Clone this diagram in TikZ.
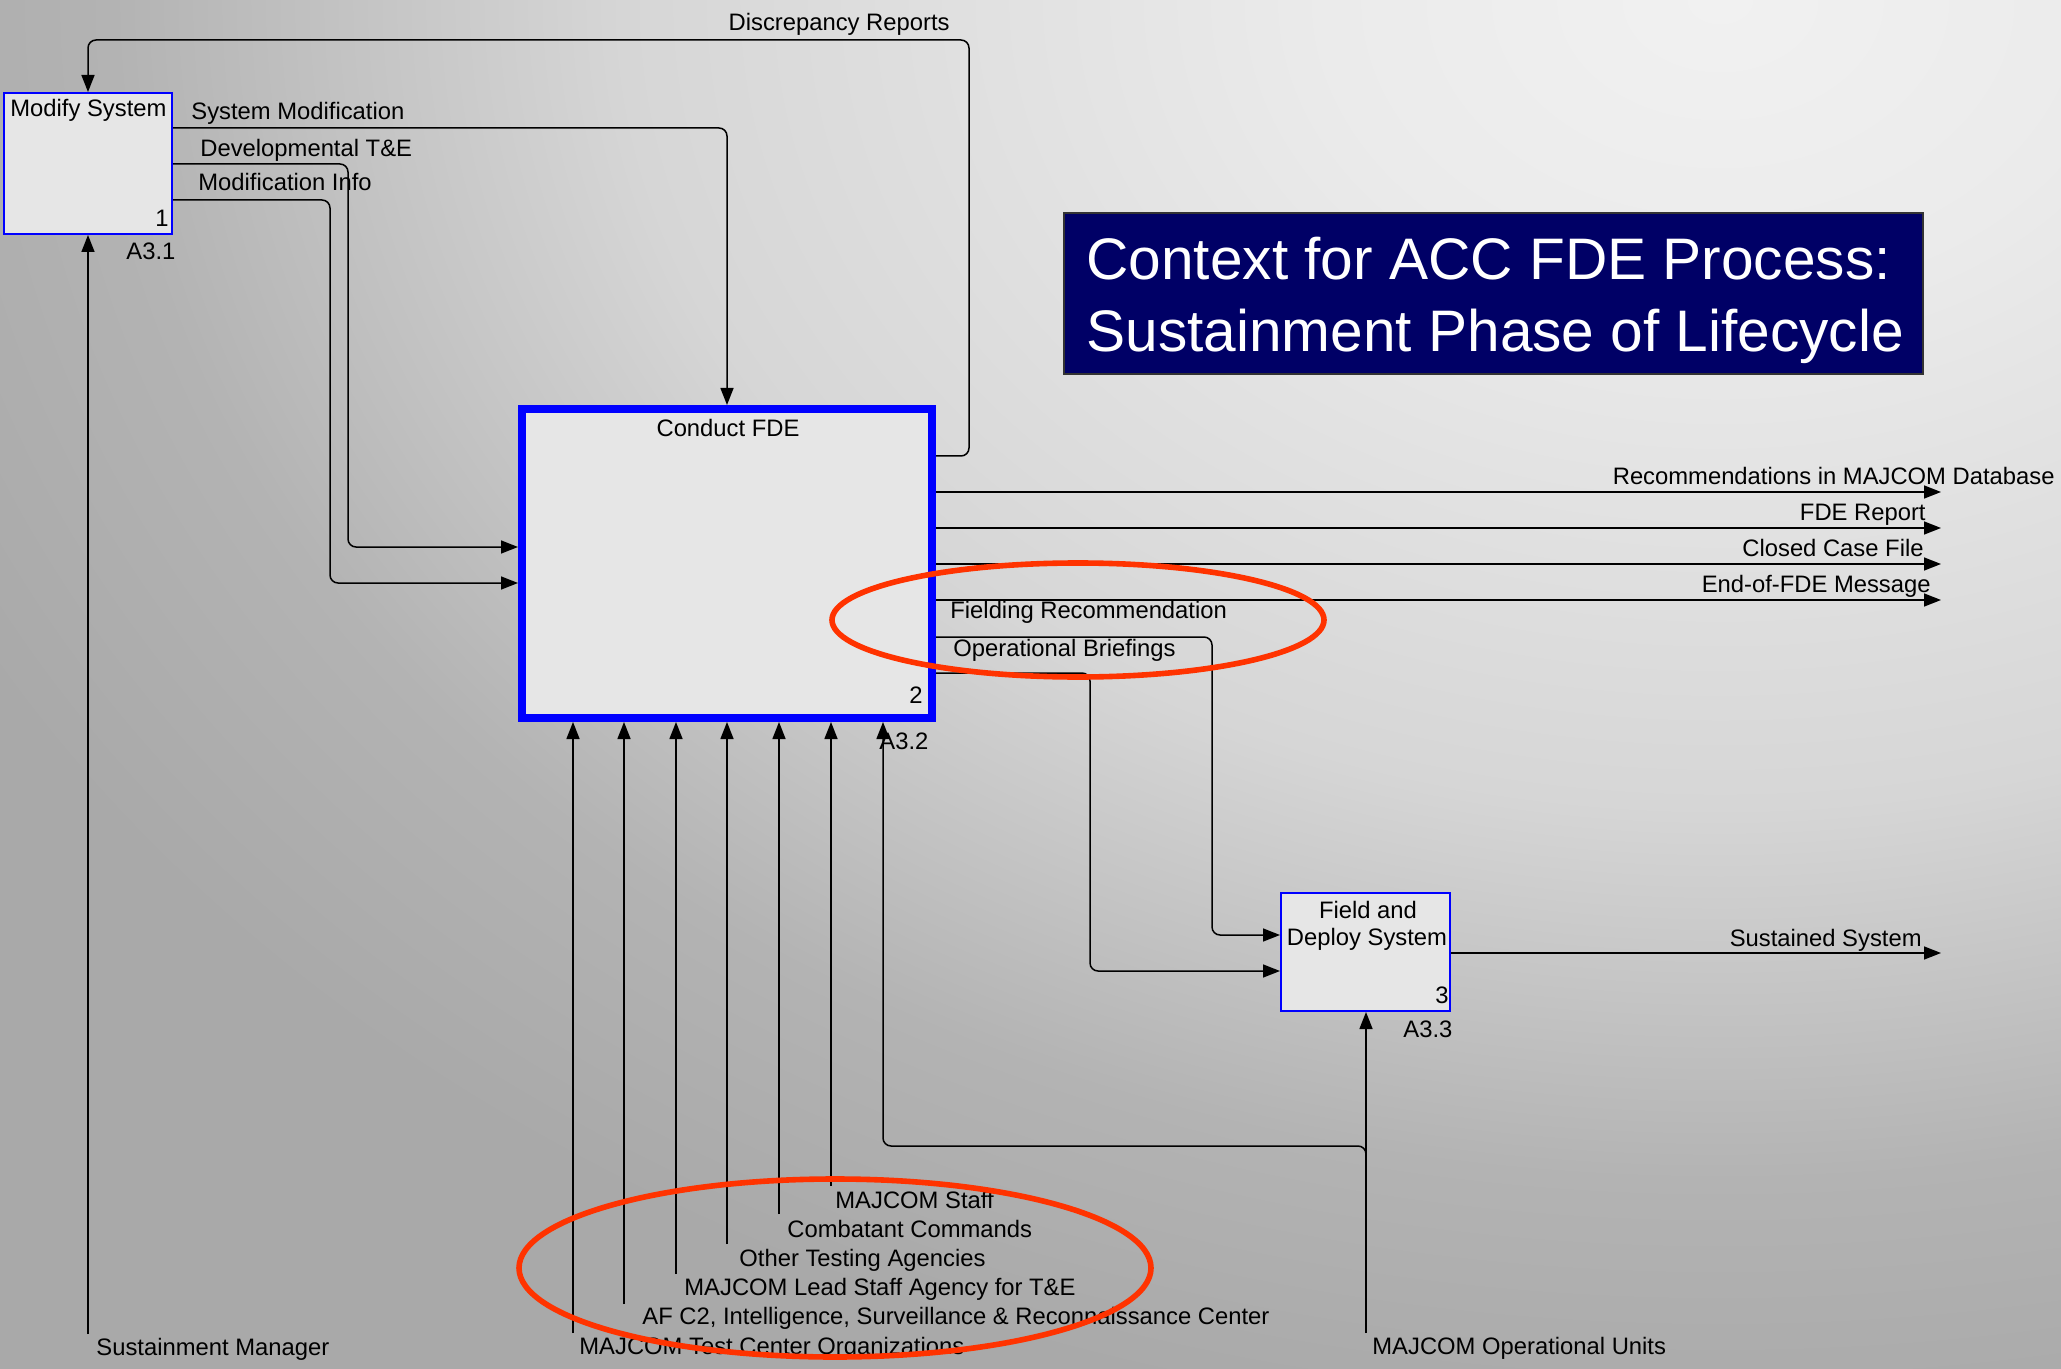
\documentclass[tikz,border=0pt]{standalone}
\usepackage{fontspec}
\setmainfont{Liberation Sans}
\usetikzlibrary{arrows.meta,fit}

\definecolor{bgA}{HTML}{F1F1F1}
\definecolor{bgB}{HTML}{EBEBEB}
\definecolor{bgC}{HTML}{D6D6D6}
\definecolor{bgD}{HTML}{B3B3B3}
\definecolor{bgE}{HTML}{A9A9A9}
\definecolor{boxfill}{HTML}{E6E6E6}
\definecolor{boxblue}{HTML}{0000FF}
\definecolor{titlenavy}{HTML}{000066}
\definecolor{ringred}{HTML}{FF3300}

% radial glow; the 25bp radius is stretched to the shaded ellipse
\pgfdeclareradialshading{bgglow}{\pgfpoint{0bp}{0bp}}{%
  color(0bp)=(bgA); color(5bp)=(bgB); color(14bp)=(bgC);
  color(20.5bp)=(bgD); color(25bp)=(bgE); color(50bp)=(bgE)}

\begin{document}
\begin{tikzpicture}[x=0.5pt,y=-0.5pt,
  lbl/.style={font=\fontsize{11.9pt}{14pt}\selectfont, inner sep=0pt, text=black},
  ttl/.style={font=\fontsize{29.3pt}{36pt}\selectfont, inner sep=0pt, text=white},
  actbox/.style={draw=boxblue, fill=boxfill, line width=1pt, inner sep=0pt},
  mainbox/.style={draw=boxblue, fill=boxfill, line width=4pt, inner sep=0pt},
  flow/.style={draw=black, line width=0.75pt, rounded corners=4pt,
    -{Triangle[length=8.5pt,width=6.5pt]}},
  ring/.style={draw=ringred, line width=2.8pt},
]

% background with a soft glow towards the upper right
\fill[bgE] (0,0) rectangle (2061,1369);
\begin{scope}
  \clip (0,0) rectangle (2061,1369);
  \shade[shading=bgglow] (1720,0) ellipse [x radius=980pt, y radius=720pt];
\end{scope}
\useasboundingbox (0,0) rectangle (2061,1369);

% activity boxes
\node[actbox, fit={(4,93) (172,234)}] (ms) {};
\node[mainbox, fit={(522,409) (932,718)}] (fde) {};
\node[actbox, fit={(1281,893) (1450,1011)}] (fd) {};

% title block
\node[fill=titlenavy, draw=black!80, line width=0.6pt, inner sep=0pt,
  fit={(1064,213) (1923,374)}] (title) {};
\node[ttl, anchor=base west] (title1) at (1086,280) {Context for ACC FDE Process:};
\node[ttl, anchor=base west] (title2) at (1086,352) {Sustainment Phase of Lifecycle};

% box names, numbers and node references
\node[lbl, anchor=base west] (msname) at (10,117) {Modify System};
\node[lbl, anchor=base east] (msnum) at (169,227) {1};
\node[lbl, anchor=base west] (msref) at (126,260) {A3.1};
\node[lbl, anchor=base] (fdename) at (728,437) {Conduct FDE};
\node[lbl, anchor=base east] (fdenum) at (923,703) {2};
\node[lbl, anchor=base west] (fderef) at (879,749) {A3.2};
\node[lbl, anchor=base] (fdname1) at (1368,918) {Field and};
\node[lbl, anchor=base] (fdname2) at (1367,945) {Deploy System};
\node[lbl, anchor=base east] (fdnum) at (1449,1003) {3};
\node[lbl, anchor=base west] (fdref) at (1403,1037) {A3.3};

% free ends of boundary arrows
\coordinate (outRec) at (1941,492);
\coordinate (outRep) at (1941,528);
\coordinate (outCase) at (1941,564);
\coordinate (outMsg) at (1941,600);
\coordinate (outSys) at (1941,953);
\coordinate (inSust) at (88,1334);
\coordinate (inTest) at (573,1333);
\coordinate (inAFC) at (624,1304);
\coordinate (inLead) at (676,1274);
\coordinate (inOther) at (727,1244);
\coordinate (inCombat) at (779,1214);
\coordinate (inStaff) at (831,1186);
\coordinate (inOps) at (1366,1333);
\coordinate (opsBranch) at (1366,1162);

% feedback and internal flows
\draw[flow] (fde.east |- 0,456) -- (969,456) -- (969,40) -- (88,40) -- (ms.north -| 88,0);
\draw[flow] (ms.east |- 0,128) -- (727,128) -- (fde.north -| 727,0);
\draw[flow] (ms.east |- 0,164) -- (348,164) -- (348,547) -- (fde.west |- 0,547);
\draw[flow] (ms.east |- 0,200) -- (330,200) -- (330,583) -- (fde.west |- 0,583);
\draw[flow] (fde.east |- 0,637) -- (1212,637) -- (1212,935) -- (fd.west |- 0,935);
\draw[flow] (fde.east |- 0,673) -- (1090,673) -- (1090,971) -- (fd.west |- 0,971);

% outputs
\draw[flow] (fde.east |- outRec) -- (outRec);
\draw[flow] (fde.east |- outRep) -- (outRep);
\draw[flow] (fde.east |- outCase) -- (outCase);
\draw[flow] (fde.east |- outMsg) -- (outMsg);
\draw[flow] (fd.east |- outSys) -- (outSys);

% inputs and mechanisms from below
\draw[flow] (inSust) -- (ms.south -| inSust);
\draw[flow] (inTest) -- (fde.south -| inTest);
\draw[flow] (inAFC) -- (fde.south -| inAFC);
\draw[flow] (inLead) -- (fde.south -| inLead);
\draw[flow] (inOther) -- (fde.south -| inOther);
\draw[flow] (inCombat) -- (fde.south -| inCombat);
\draw[flow] (inStaff) -- (fde.south -| inStaff);
\draw[flow] (inOps) -- (fd.south -| inOps);
\draw[flow] (opsBranch) -- (1366,1146) -- (883,1146) -- (fde.south -| 883,0);

% arrow labels
\node[lbl, anchor=base east] (lDisc) at (950,31) {Discrepancy Reports};
\node[lbl, anchor=base west] (lSysMod) at (191,120) {System Modification};
\node[lbl, anchor=base west] (lDev) at (200,157) {Developmental T\&E};
\node[lbl, anchor=base west] (lModInfo) at (198,191) {Modification Info};
\node[lbl, anchor=base east] (lRec) at (2055,484) {Recommendations in MAJCOM Database};
\node[lbl, anchor=base east] (lRep) at (1926,520) {FDE Report};
\node[lbl, anchor=base east] (lCase) at (1924,556) {Closed Case File};
\node[lbl, anchor=base east] (lMsg) at (1931,592) {End-of-FDE Message};
\node[lbl, anchor=base west] (lField) at (950,618) {Fielding Recommendation};
\node[lbl, anchor=base west] (lBrief) at (953,656) {Operational Briefings};
\node[lbl, anchor=base east] (lSys) at (1922,946) {Sustained System};
\node[lbl, anchor=base west] (lSust) at (96,1355) {Sustainment Manager};
\node[lbl, anchor=base west] (lStaff) at (835,1208) {MAJCOM Staff};
\node[lbl, anchor=base west] (lCombat) at (787,1237) {Combatant Commands};
\node[lbl, anchor=base west] (lOther) at (739,1266) {Other Testing Agencies};
\node[lbl, anchor=base west] (lLead) at (684,1295) {MAJCOM Lead Staff Agency for T\&E};
\node[lbl, anchor=base west] (lAFC) at (642,1324) {AF C2, Intelligence, Surveillance \& Reconnaissance Center};
\node[lbl, anchor=base west] (lTest) at (579,1354) {MAJCOM Test Center Organizations};
\node[lbl, anchor=base west] (lOps) at (1372,1354) {MAJCOM Operational Units};

% highlight rings
\draw[ring] (1078,620) ellipse [x radius=123pt, y radius=28.5pt];
\draw[ring] (835,1268) ellipse [x radius=158pt, y radius=44.5pt];

\end{tikzpicture}
\end{document}
